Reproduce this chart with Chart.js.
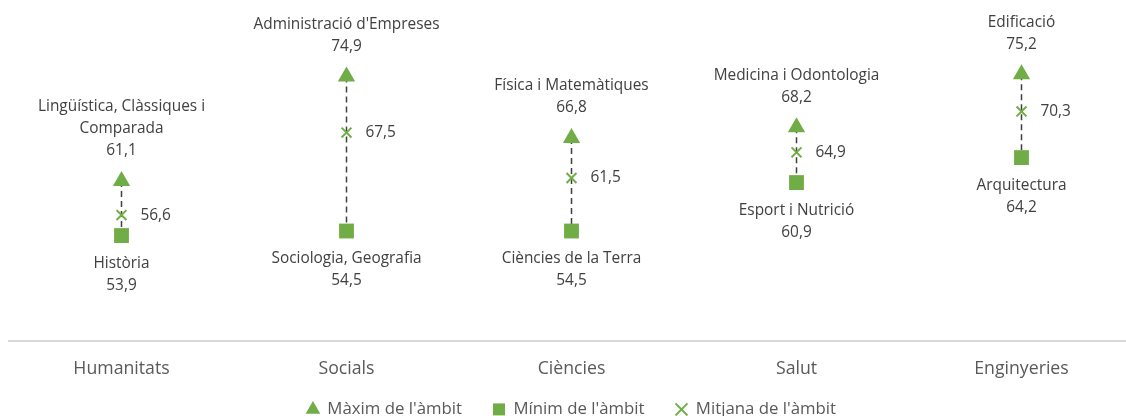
<!DOCTYPE html>
<html>
<head>
<meta charset="utf-8">
<script src="https://cdn.jsdelivr.net/npm/chart.js@4.4.1/dist/chart.umd.min.js"></script>
<style>
  html, body { margin: 0; padding: 0; background: #fff; overflow: hidden; }
  #wrap { width: 1134px; height: 416px; }
</style>
</head>
<body>
<div id="wrap"><canvas id="myChart" width="1134" height="416"></canvas></div>
<script>
// dades del gràfic
const categories = ["Humanitats", "Socials", "Ciències", "Salut", "Enginyeries"];
const maxNames = [
  ["Lingüística, Clàssiques i", "Comparada"],
  ["Administració d'Empreses"],
  ["Física i Matemàtiques"],
  ["Medicina i Odontologia"],
  ["Edificació"],
];
const maxValues = [61.1, 74.9, 66.8, 68.2, 75.2];
const minNames = [
  ["Història"],
  ["Sociologia, Geografia"],
  ["Ciències de la Terra"],
  ["Esport i Nutrició"],
  ["Arquitectura"],
];
const minValues = [53.9, 54.5, 54.5, 60.9, 64.2];
const meanValues = [56.6, 67.5, 61.5, 64.9, 70.3];

const green = "#70AD47";
const textColor = "#404040";
const fontFamily = "'Open Sans', sans-serif";

function fmt(v) {
  return v.toFixed(1).replace(".", ",");
}

// línia discontínua entre mínim i màxim
const rangeLines = {
  id: "rangeLines",
  beforeDatasetsDraw(chart) {
    const ctx = chart.ctx;
    const x = chart.scales.x;
    const y = chart.scales.y;
    ctx.save();
    ctx.strokeStyle = "#404040";
    ctx.lineWidth = 1.5;
    ctx.setLineDash([6, 4]);
    for (let i = 0; i < categories.length; i++) {
      const px = x.getPixelForValue(i);
      ctx.beginPath();
      ctx.moveTo(px, y.getPixelForValue(maxValues[i]));
      ctx.lineTo(px, y.getPixelForValue(minValues[i]));
      ctx.stroke();
    }
    ctx.restore();
  },
};

// etiquetes de dades
const pointLabels = {
  id: "pointLabels",
  afterDatasetsDraw(chart) {
    const ctx = chart.ctx;
    const x = chart.scales.x;
    const y = chart.scales.y;
    const lh = 22;
    ctx.save();
    ctx.fillStyle = textColor;
    ctx.font = "15.4px " + fontFamily;
    ctx.textBaseline = "middle";
    for (let i = 0; i < categories.length; i++) {
      const px = x.getPixelForValue(i);
      // màxim: nom i valor per sobre
      ctx.textAlign = "center";
      let top = y.getPixelForValue(maxValues[i]) - 30;
      ctx.fillText(fmt(maxValues[i]), px, top);
      const names = maxNames[i];
      for (let j = names.length - 1; j >= 0; j--) {
        top -= lh;
        ctx.fillText(names[j], px, top);
      }
      // mínim: nom i valor per sota
      let bot = y.getPixelForValue(minValues[i]) + 28;
      for (const n of minNames[i]) {
        ctx.fillText(n, px, bot);
        bot += lh;
      }
      ctx.fillText(fmt(minValues[i]), px, bot);
      // mitjana a la dreta
      ctx.textAlign = "left";
      ctx.fillText(fmt(meanValues[i]), px + 19, y.getPixelForValue(meanValues[i]));
    }
    ctx.restore();
  },
};

// llegenda: alçada fixa i posició més avall, com a l'original
const legendPlace = {
  id: "legendPlace",
  beforeInit(chart) {
    const legend = chart.legend;
    const fit = legend.fit;
    legend.fit = function () {
      fit.call(this);
      this.height = 18;
    };
  },
  afterLayout(chart) {
    const legend = chart.legend;
    legend.top = 370;
    legend.height = 46;
    legend.bottom = 416;
  },
};

new Chart(document.getElementById("myChart"), {
  type: "line",
  data: {
    labels: categories,
    datasets: [
      {
        label: "Màxim de l'àmbit",
        data: maxValues,
        showLine: false,
        pointStyle: "triangle",
        pointRadius: 10,
        backgroundColor: green,
        borderColor: green,
        borderWidth: 0,
        clip: false,
      },
      {
        label: "Mínim de l'àmbit",
        data: minValues,
        showLine: false,
        pointStyle: "rect",
        pointRadius: 10.5,
        backgroundColor: green,
        borderColor: green,
        borderWidth: 0,
        clip: false,
      },
      {
        label: "Mitjana de l'àmbit",
        data: meanValues,
        showLine: false,
        pointStyle: "crossRot",
        pointRadius: 7,
        backgroundColor: green,
        borderColor: green,
        borderWidth: 2,
        clip: false,
      },
    ],
  },
  options: {
    responsive: false,
    animation: false,
    layout: {
      autoPadding: false,
      padding: { left: 9, right: 0, top: 38, bottom: 0 },
    },
    scales: {
      x: {
        offset: true,
        grid: { display: false, drawTicks: false },
        border: { color: "#d9d9d9", width: 2 },
        ticks: {
          color: "#595959",
          padding: 18,
          font: { size: 17.7, family: fontFamily },
        },
      },
      y: {
        display: false,
        min: 40,
        max: 80,
      },
    },
    plugins: {
      tooltip: { enabled: false },
      legend: {
        position: "bottom",
        labels: {
          color: "#595959",
          usePointStyle: true,
          boxWidth: 12,
          boxHeight: 12,
          padding: 31,
          font: { size: 16.8, family: fontFamily },
        },
      },
    },
  },
  plugins: [rangeLines, pointLabels, legendPlace],
});
</script>
</body>
</html>
